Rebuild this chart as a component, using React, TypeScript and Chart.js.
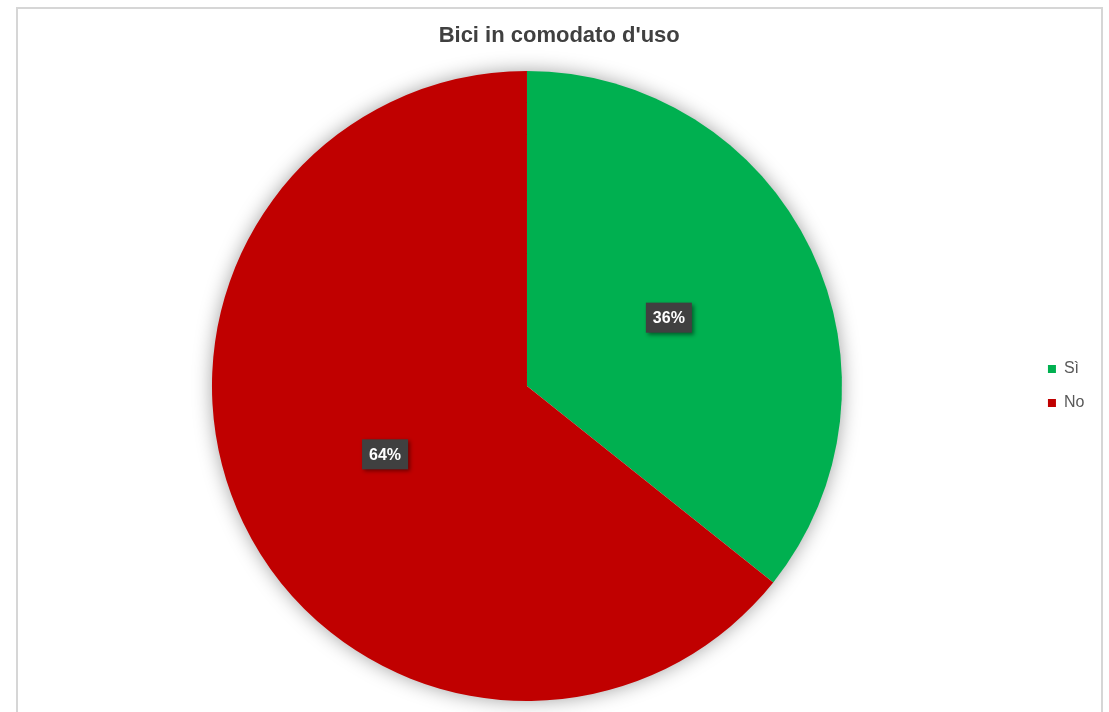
import React, { useEffect, useRef } from "react";
import { Chart, registerables } from "chart.js";

Chart.register(...registerables);

const chartTitle = "Bici in comodato d'uso";
const categories = ["Sì", "No"];
const counts = [5, 9];
const sliceColors = ["#00B050", "#C00000"];

const pieShadow = {
  id: "pieShadow",
  beforeDatasetsDraw(chart: any) {
    const arc = chart.getDatasetMeta(0).data[0] as any;
    if (!arc) return;
    const ctx = chart.ctx;
    ctx.save();
    ctx.shadowColor = "rgba(0,0,0,0.4)";
    ctx.shadowBlur = 20;
    ctx.fillStyle = "#ffffff";
    ctx.beginPath();
    ctx.arc(arc.x, arc.y, arc.outerRadius - 1, 0, Math.PI * 2);
    ctx.fill();
    ctx.restore();
  },
};

const sliceLabels = {
  id: "sliceLabels",
  afterDatasetsDraw(chart: any) {
    const ctx = chart.ctx;
    const meta = chart.getDatasetMeta(0);
    const values = chart.data.datasets[0].data as number[];
    const total = values.reduce((a, b) => a + b, 0);
    ctx.save();
    ctx.font = "bold 16px 'Liberation Sans', Arial, sans-serif";
    ctx.textAlign = "center";
    ctx.textBaseline = "middle";
    meta.data.forEach((el: any, i: number) => {
      const p = el.getCenterPoint();
      const txt = Math.round((values[i] / total) * 100) + "%";
      const w = ctx.measureText(txt).width + 14;
      const h = 30;
      ctx.save();
      ctx.shadowColor = "rgba(0,0,0,0.45)";
      ctx.shadowBlur = 4;
      ctx.shadowOffsetX = 2;
      ctx.shadowOffsetY = 2;
      ctx.fillStyle = "#404040";
      ctx.fillRect(p.x - w / 2, p.y - h / 2, w, h);
      ctx.restore();
      ctx.fillStyle = "#ffffff";
      ctx.fillText(txt, p.x, p.y + 1);
    });
    ctx.restore();
  },
};

export default function App() {
  const ref = useRef<HTMLCanvasElement>(null);
  useEffect(() => {
    if (!ref.current) return;
    const chart = new Chart(ref.current, {
      type: "pie",
      data: {
        labels: categories,
        datasets: [
          {
            data: counts,
            backgroundColor: sliceColors,
            borderWidth: 0,
            hoverBorderWidth: 0,
            hoverOffset: 0,
            offset: 0,
          },
        ],
      },
      options: {
        animation: false,
        responsive: false,
        maintainAspectRatio: false,
        layout: { padding: { top: 10, bottom: 11, left: 24, right: 14.6 } },
        plugins: {
          tooltip: { enabled: false },
          title: {
            display: true,
            text: chartTitle,
            color: "#404040",
            font: { family: "'Liberation Sans', Arial, sans-serif", size: 22, weight: "bold", lineHeight: 1.2 },
            padding: { top: 12.8, bottom: 21.8 },
          },
          legend: {
            display: true,
            position: "right",
            fullSize: false,
            labels: {
              boxWidth: 8,
              boxHeight: 8,
              padding: 18,
              color: "#595959",
              font: { family: "'Liberation Sans', Arial, sans-serif", size: 16 },
            },
          },
        },
      },
      plugins: [pieShadow, sliceLabels],
    });
    return () => chart.destroy();
  }, []);
  return (
    <div style={{ position: "fixed", left: 0, top: 0, width: 1109, height: 712, background: "#fff", overflow: "hidden" }}>
      <canvas ref={ref} width={1109} height={712} style={{ position: "absolute", left: 0, top: 0 }} />
      <div
        style={{
          position: "absolute",
          left: 16,
          top: 7,
          width: 1087,
          height: 800,
          boxSizing: "border-box",
          border: "2px solid #d6d6d6",
          pointerEvents: "none",
        }}
      />
    </div>
  );
}
